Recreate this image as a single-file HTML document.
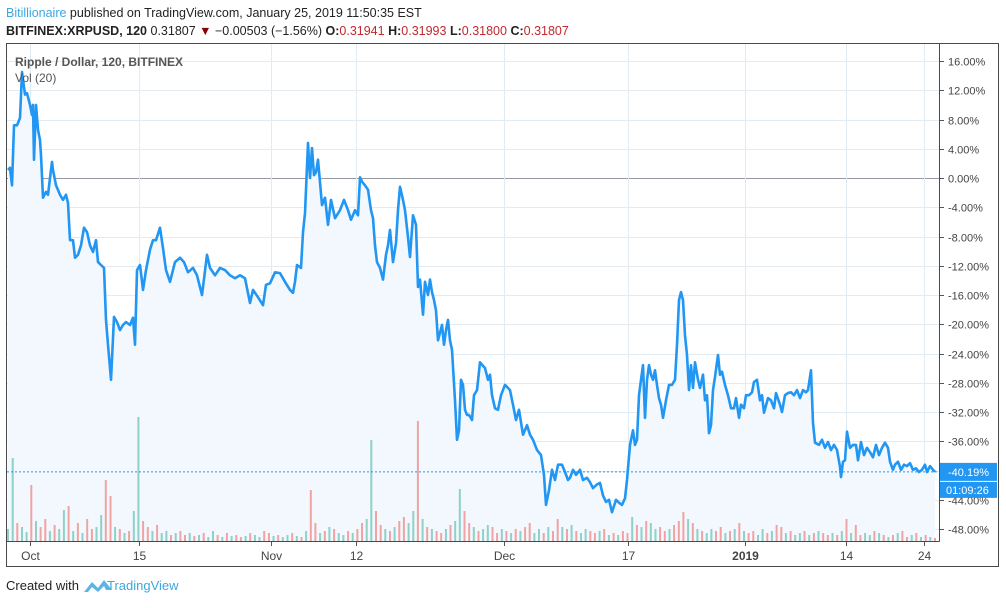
<!DOCTYPE html>
<html><head><meta charset="utf-8">
<style>
html,body{margin:0;padding:0;background:#fff;}
body{width:1006px;height:603px;overflow:hidden;font-family:"Liberation Sans",sans-serif;}
svg text{font-family:"Liberation Sans",sans-serif;}
</style></head>
<body>
<svg id="chart" width="1006" height="603" viewBox="0 0 1006 603" xmlns="http://www.w3.org/2000/svg">
  <rect x="0" y="0" width="1006" height="603" fill="#ffffff"/>
  <text x="6" y="17" font-size="12.5" fill="#222"><tspan fill="#3ba8e0">Bitillionaire</tspan> published on TradingView.com, January 25, 2019 11:50:35 EST</text>
  <text x="6" y="35" font-size="12.5" fill="#222"><tspan font-weight="bold">BITFINEX:XRPUSD, 120</tspan> 0.31807 <tspan fill="#8b0000">▼</tspan> −0.00503 (−1.56%) <tspan font-weight="bold">O:</tspan><tspan fill="#c0282d">0.31941</tspan> <tspan font-weight="bold">H:</tspan><tspan fill="#c0282d">0.31993</tspan> <tspan font-weight="bold">L:</tspan><tspan fill="#c0282d">0.31800</tspan> <tspan font-weight="bold">C:</tspan><tspan fill="#c0282d">0.31807</tspan></text>
  <rect x="6.5" y="43.5" width="992" height="523" fill="none" stroke="#4a4a4a"/>
  <rect x="7" y="44" width="932" height="497" fill="#ffffff"/>
  <g id="grid"></g>
  <g id="vol"></g>
  <g id="price"></g>
  <g id="axes"></g>
  <text x="15" y="66" font-size="12" font-weight="bold" fill="#555">Ripple / Dollar, 120, BITFINEX</text>
  <text x="15" y="82" font-size="12" fill="#555">Vol (20)</text>
  <text x="6" y="590" font-size="13" fill="#222">Created with</text>
  <path d="M84 592 L92 582 L98 588 L104 580 L112 590 L106 590 L104 586 L98 592 L92 587 L88 592 Z" fill="#5ab4e4"/>
  <text x="107" y="590" font-size="13" fill="#3ba8e0">TradingView</text>
</svg>
<script>
// price series: day offsets from Oct 1 2018, and % change
const days = [-2.83,-2.57,-2.32,-2.06,-1.67,-1.29,-1.03,-0.64,-0.39,0,0.26,0.39,0.51,0.77,1.03,1.29,1.42,1.67,2.06,2.32,2.57,2.83,2.96,3.35,3.86,4.25,4.63,4.89,5.15,5.53,5.79,6.18,6.56,6.95,7.34,7.72,8.11,8.49,8.75,9.14,9.52,9.78,10.04,10.42,10.81,11.2,11.58,11.97,12.36,12.87,13.26,13.51,13.77,14.16,14.54,14.93,15.44,15.83,16.22,16.73,17.12,17.5,18.02,18.66,19.31,19.82,20.33,20.98,21.49,22.14,22.78,23.17,23.81,24.45,25.1,25.74,26.38,27.03,27.67,28.31,28.7,29.34,29.99,30.37,30.89,31.53,32.18,32.82,33.46,33.85,34.11,34.36,34.88,35.14,35.39,35.78,36.04,36.29,36.55,36.81,37.07,37.58,37.97,38.35,38.74,39.25,39.9,40.41,40.93,41.31,41.83,42.21,42.47,42.73,43.11,43.5,43.89,44.14,44.4,44.66,45.05,45.43,45.82,46.07,46.33,46.72,47.1,47.36,47.62,48.0,48.26,48.65,48.91,49.29,49.68,49.94,50.19,50.58,50.84,51.22,51.48,51.74,51.99,52.25,52.51,53.02,53.28,53.54,53.8,54.05,54.31,54.7,54.95,55.21,55.47,55.73,55.98,56.24,56.5,56.89,57.14,57.53,57.92,58.56,58.94,59.2,59.46,59.85,60.23,60.62,61.13,61.78,62.16,62.55,62.93,63.45,63.96,64.35,64.74,65.25,65.77,66.15,66.41,66.8,67.18,67.57,67.95,68.47,68.86,69.24,69.5,69.89,70.27,70.79,71.17,71.69,72.07,72.46,72.97,73.36,73.74,74.13,74.52,74.9,75.42,75.8,76.19,76.58,76.83,77.22,77.61,77.86,78.12,78.38,78.64,78.89,79.15,79.41,79.67,79.92,80.18,80.44,80.69,80.95,81.21,81.47,81.85,82.24,82.63,83.01,83.27,83.53,83.78,84.04,84.3,84.56,84.81,85.07,85.33,85.59,85.97,86.23,86.61,86.87,87.13,87.39,87.64,87.9,88.16,88.55,88.8,89.06,89.45,89.83,90.22,90.6,90.86,91.25,91.51,91.89,92.15,92.54,92.92,93.18,93.56,93.95,94.21,94.47,94.98,95.37,95.75,96.01,96.53,96.78,97.17,97.55,97.94,98.33,98.71,99.1,99.49,99.87,100.13,100.51,100.77,101.03,101.54,101.93,102.32,102.7,103.09,103.47,103.86,104.25,104.38,104.63,104.89,105.15,105.53,105.92,106.31,106.56,106.95,107.34,107.72,108.11,108.49,108.88,109.27,109.65,110.04,110.42,110.68,111.07,111.33,111.71,112.1,112.48,112.87,113.26,113.64,114.03,114.41,114.8,115.19,115.44,115.83,116.22,116.47];
const pct = [1.1,1.4,-1.0,7.2,7.2,8.2,14.5,11.4,11.6,10.0,8.6,10.0,2.5,10.0,6.6,5.2,3.1,-2.7,-1.9,-2.3,0,2.2,1.1,-1.0,-2.3,-3.0,-2.3,-3.4,-8.5,-8.5,-10.9,-10.5,-9.2,-6.8,-7.4,-9.2,-10.1,-8.5,-11.5,-11.9,-12.3,-19.4,-22.8,-27.6,-19.0,-19.7,-20.8,-20.1,-19.7,-20.1,-19.1,-22.8,-12.6,-11.9,-15.3,-12.6,-9.8,-8.5,-8.5,-6.8,-9.6,-12.6,-14.2,-11.5,-10.9,-11.5,-12.9,-12.3,-13.3,-16.0,-10.5,-12.3,-13.3,-12.3,-12.6,-13.3,-13.7,-13.3,-13.7,-17.1,-15.3,-16.3,-17.4,-14.6,-14.4,-12.9,-13.0,-14.2,-15.3,-15.7,-14.2,-11.9,-12.3,-7.4,-4.8,4.8,0,4.1,0.4,0.8,2.5,-3.7,-2.7,-6.4,-3.0,-5.5,-4.4,-3.0,-4.4,-5.7,-4.4,-5.1,0.1,-0.5,-1.0,-1.6,-4.4,-5.5,-9.2,-11.5,-12.3,-13.9,-10.5,-9.2,-7.1,-11.5,-8.9,-4.4,-1.2,-3.0,-4.4,-8.1,-10.8,-5.1,-6.4,-14.9,-13.9,-18.7,-14.2,-16.0,-13.9,-15.6,-16.7,-18.1,-22.2,-20.1,-22.8,-20.8,-19.4,-22.2,-23.5,-30.4,-35.8,-34.5,-27.6,-28.3,-31.7,-32.4,-32.4,-33.1,-29.7,-29.0,-25.2,-26.0,-27.6,-26.9,-29.7,-31.5,-31.7,-29.7,-28.3,-29.0,-31.0,-33.1,-31.7,-35.1,-33.8,-35.1,-35.8,-37.2,-37.9,-40.6,-44.7,-42.7,-39.9,-41.3,-39.2,-39.2,-40.2,-41.3,-41.0,-39.9,-40.6,-39.9,-41.3,-41.0,-41.6,-42.4,-41.9,-41.7,-43.4,-44.3,-44.0,-45.7,-44.0,-44.4,-44.7,-43.8,-41.3,-36.5,-34.5,-36.5,-35.8,-29.7,-27.6,-25.6,-32.8,-27.6,-25.6,-26.9,-27.6,-26.3,-28.3,-30.1,-31.0,-32.8,-30.4,-28.3,-28.3,-27.6,-22.8,-16.7,-15.6,-16.7,-21.5,-24.2,-29.0,-25.6,-28.7,-25.2,-27.6,-28.7,-26.9,-30.4,-29.7,-34.9,-33.8,-29.0,-27.2,-24.2,-26.9,-26.5,-28.3,-29.7,-31.5,-31.5,-30.1,-32.8,-31.0,-31.5,-29.7,-29.7,-29.3,-27.9,-27.6,-30.4,-29.7,-32.1,-30.1,-30.4,-31.5,-29.4,-31.0,-32.0,-29.7,-29.4,-29.3,-29.7,-29.0,-30.1,-29.0,-29.3,-29.0,-26.3,-33.5,-36.2,-36.5,-35.8,-36.9,-36.1,-37.2,-36.5,-37.2,-39.5,-40.9,-38.8,-38.6,-34.7,-36.9,-36.5,-36.5,-38.6,-36.1,-37.9,-36.9,-37.5,-38.2,-36.5,-37.9,-36.9,-36.2,-36.9,-38.8,-39.9,-39.2,-38.8,-39.9,-39.2,-39.4,-39.0,-39.9,-39.7,-40.2,-39.9,-39.2,-40.2,-39.4,-39.9,-40.19];
// volume series (relative units) and direction flags
const volume = [12,83,18,14,9,56,20,14,22,10,16,12,31,35,10,18,8,22,12,14,26,61,45,14,12,8,10,30,124,20,14,10,16,8,10,6,8,10,6,8,5,6,8,4,10,6,4,8,5,6,4,5,8,6,4,10,8,5,6,4,6,8,5,4,10,51,18,8,10,14,12,8,6,10,8,12,18,22,101,30,16,12,10,14,20,24,18,30,120,22,14,12,10,8,12,16,20,52,30,18,14,10,12,16,14,8,12,10,8,12,10,14,18,8,12,8,14,10,22,14,12,16,10,8,12,10,8,10,12,6,8,6,10,8,24,16,14,20,18,12,14,10,12,16,20,29,22,18,12,10,8,12,10,14,8,10,12,18,10,8,10,6,12,8,10,16,14,8,10,6,8,10,6,8,10,8,6,8,6,10,22,8,16,6,8,6,10,8,6,4,6,8,10,4,6,8,4,6,4,3];
const volUp = [1,1,0,1,1,0,1,0,0,1,0,1,1,0,1,0,1,0,0,1,1,0,0,1,0,1,0,1,1,0,0,1,0,1,1,0,1,0,0,1,0,1,0,1,1,0,1,0,1,0,0,1,0,1,1,0,0,1,0,1,1,0,1,0,1,0,0,1,0,1,0,1,1,0,1,0,0,1,1,0,0,1,0,1,0,0,1,1,0,1,0,1,0,0,1,0,1,1,0,0,1,0,1,1,0,0,1,0,1,0,1,0,0,1,1,0,1,0,0,1,0,1,0,1,1,0,0,1,0,1,0,1,0,0,1,0,1,0,1,1,0,0,1,0,0,0,1,0,1,0,1,1,0,0,1,0,1,0,1,0,0,1,1,0,1,0,0,1,0,1,1,0,1,0,1,0,0,1,0,1,0,1,0,0,1,1,0,1,0,1,0,1,0,0,1,0,1,0,1,0];
const yTicks = [16,12,8,4,0,-4,-8,-12,-16,-20,-24,-28,-32,-36,-40,-44,-48];
const xTickDays = [0,14,31,42,61,77,92,105,115];
const xTickLabels = ["Oct","15","Nov","12","Dec","17","2019","14","24"];
const lastValue = -40.19;
const countdown = "01:09:26";

const NS = "http://www.w3.org/2000/svg";
const L=7, R=939, T=44, B=541;
const xS = d => 30 + d*7.77;
const yS = p => 178 - p*7.3125;
function mk(tag, attrs, parent){ const e=document.createElementNS(NS,tag); for(const k in attrs) e.setAttribute(k,attrs[k]); parent.appendChild(e); return e; }

const grid=document.getElementById('grid'), volG=document.getElementById('vol'), priceG=document.getElementById('price'), axes=document.getElementById('axes');

yTicks.forEach(v=>{
  const y=Math.round(yS(v))+0.5;
  const gl=mk('line',{x1:L,x2:R,y1:y,y2:y,stroke:v===0?'#9598a1':'#e1ebf1','stroke-width':1},grid);
  
  
  const tk=mk('line',{x1:R,x2:R+5,y1:y,y2:y,stroke:'#555'},axes);
  
  
  const t=mk('text',{x:948,y:y+4,'font-size':11,fill:'#444'},axes);
  t.textContent=v.toFixed(2)+'%';
  
  
});
xTickDays.forEach((d,i)=>{
  const x=Math.round(xS(d))+0.5;
  const gl=mk('line',{x1:x,x2:x,y1:T,y2:B,stroke:'#e1ebf1'},grid);
  
  
  const tk=mk('line',{x1:x,x2:x,y1:B,y2:B+5,stroke:'#555'},axes);
  
  
  const t=mk('text',{x:x,y:560,'font-size':12,fill:'#444','text-anchor':'middle','font-weight':xTickLabels[i]==='2019'?'bold':'normal'},axes);
  t.textContent=xTickLabels[i];
  
  
});

// area + line
let pts = days.map((d,i)=>xS(d).toFixed(1)+','+yS(pct[i]).toFixed(1));
const area=mk('polygon',{points:xS(days[0]).toFixed(1)+','+B+' '+pts.join(' ')+' '+xS(days[days.length-1]).toFixed(1)+','+B,fill:'#f2f8fd'},grid);



// volume bars
const vMax = 124, vH = 124;
const d0 = days[0], d1 = days[days.length-1];
volume.forEach((v,i)=>{
  const d = d0 + (d1-d0)*i/(volume.length-1);
  const h = v/vMax*vH;
  const b=mk('rect',{x:(xS(d)-1).toFixed(1),y:(B-h).toFixed(1),width:2,height:h.toFixed(1),fill:volUp[i]?'#8fd0c9':'#f0a3a2'},volG);
  
  
});

const line=mk('polyline',{points:pts.join(' '),fill:'none',stroke:'#2196f3','stroke-width':2.6,'stroke-linejoin':'round'},priceG);



const ly = yS(lastValue);
const dl=mk('line',{x1:L,x2:R,y1:ly,y2:ly,stroke:'#2196f3','stroke-dasharray':'2,2','stroke-width':1},priceG);



// axis borders
const ax1=mk('line',{x1:R+0.5,x2:R+0.5,y1:T,y2:B+0.5,stroke:'#4a4a4a'},axes);


const ax2=mk('line',{x1:6,x2:R+0.5,y1:B+0.5,y2:B+0.5,stroke:'#4a4a4a'},axes);



const lb=mk('rect',{x:940,y:ly-9,width:57,height:18,fill:'#2196f3'},axes);


const lt=mk('text',{x:948,y:ly+4,'font-size':11,fill:'#fff'},axes);
lt.textContent=lastValue.toFixed(2)+'%';


const cb=mk('rect',{x:940,y:ly+10,width:57,height:16,fill:'#2196f3'},axes);


const ct=mk('text',{x:946,y:ly+22,'font-size':11,fill:'#fff'},axes);
ct.textContent=countdown;


</script>
</body></html>
